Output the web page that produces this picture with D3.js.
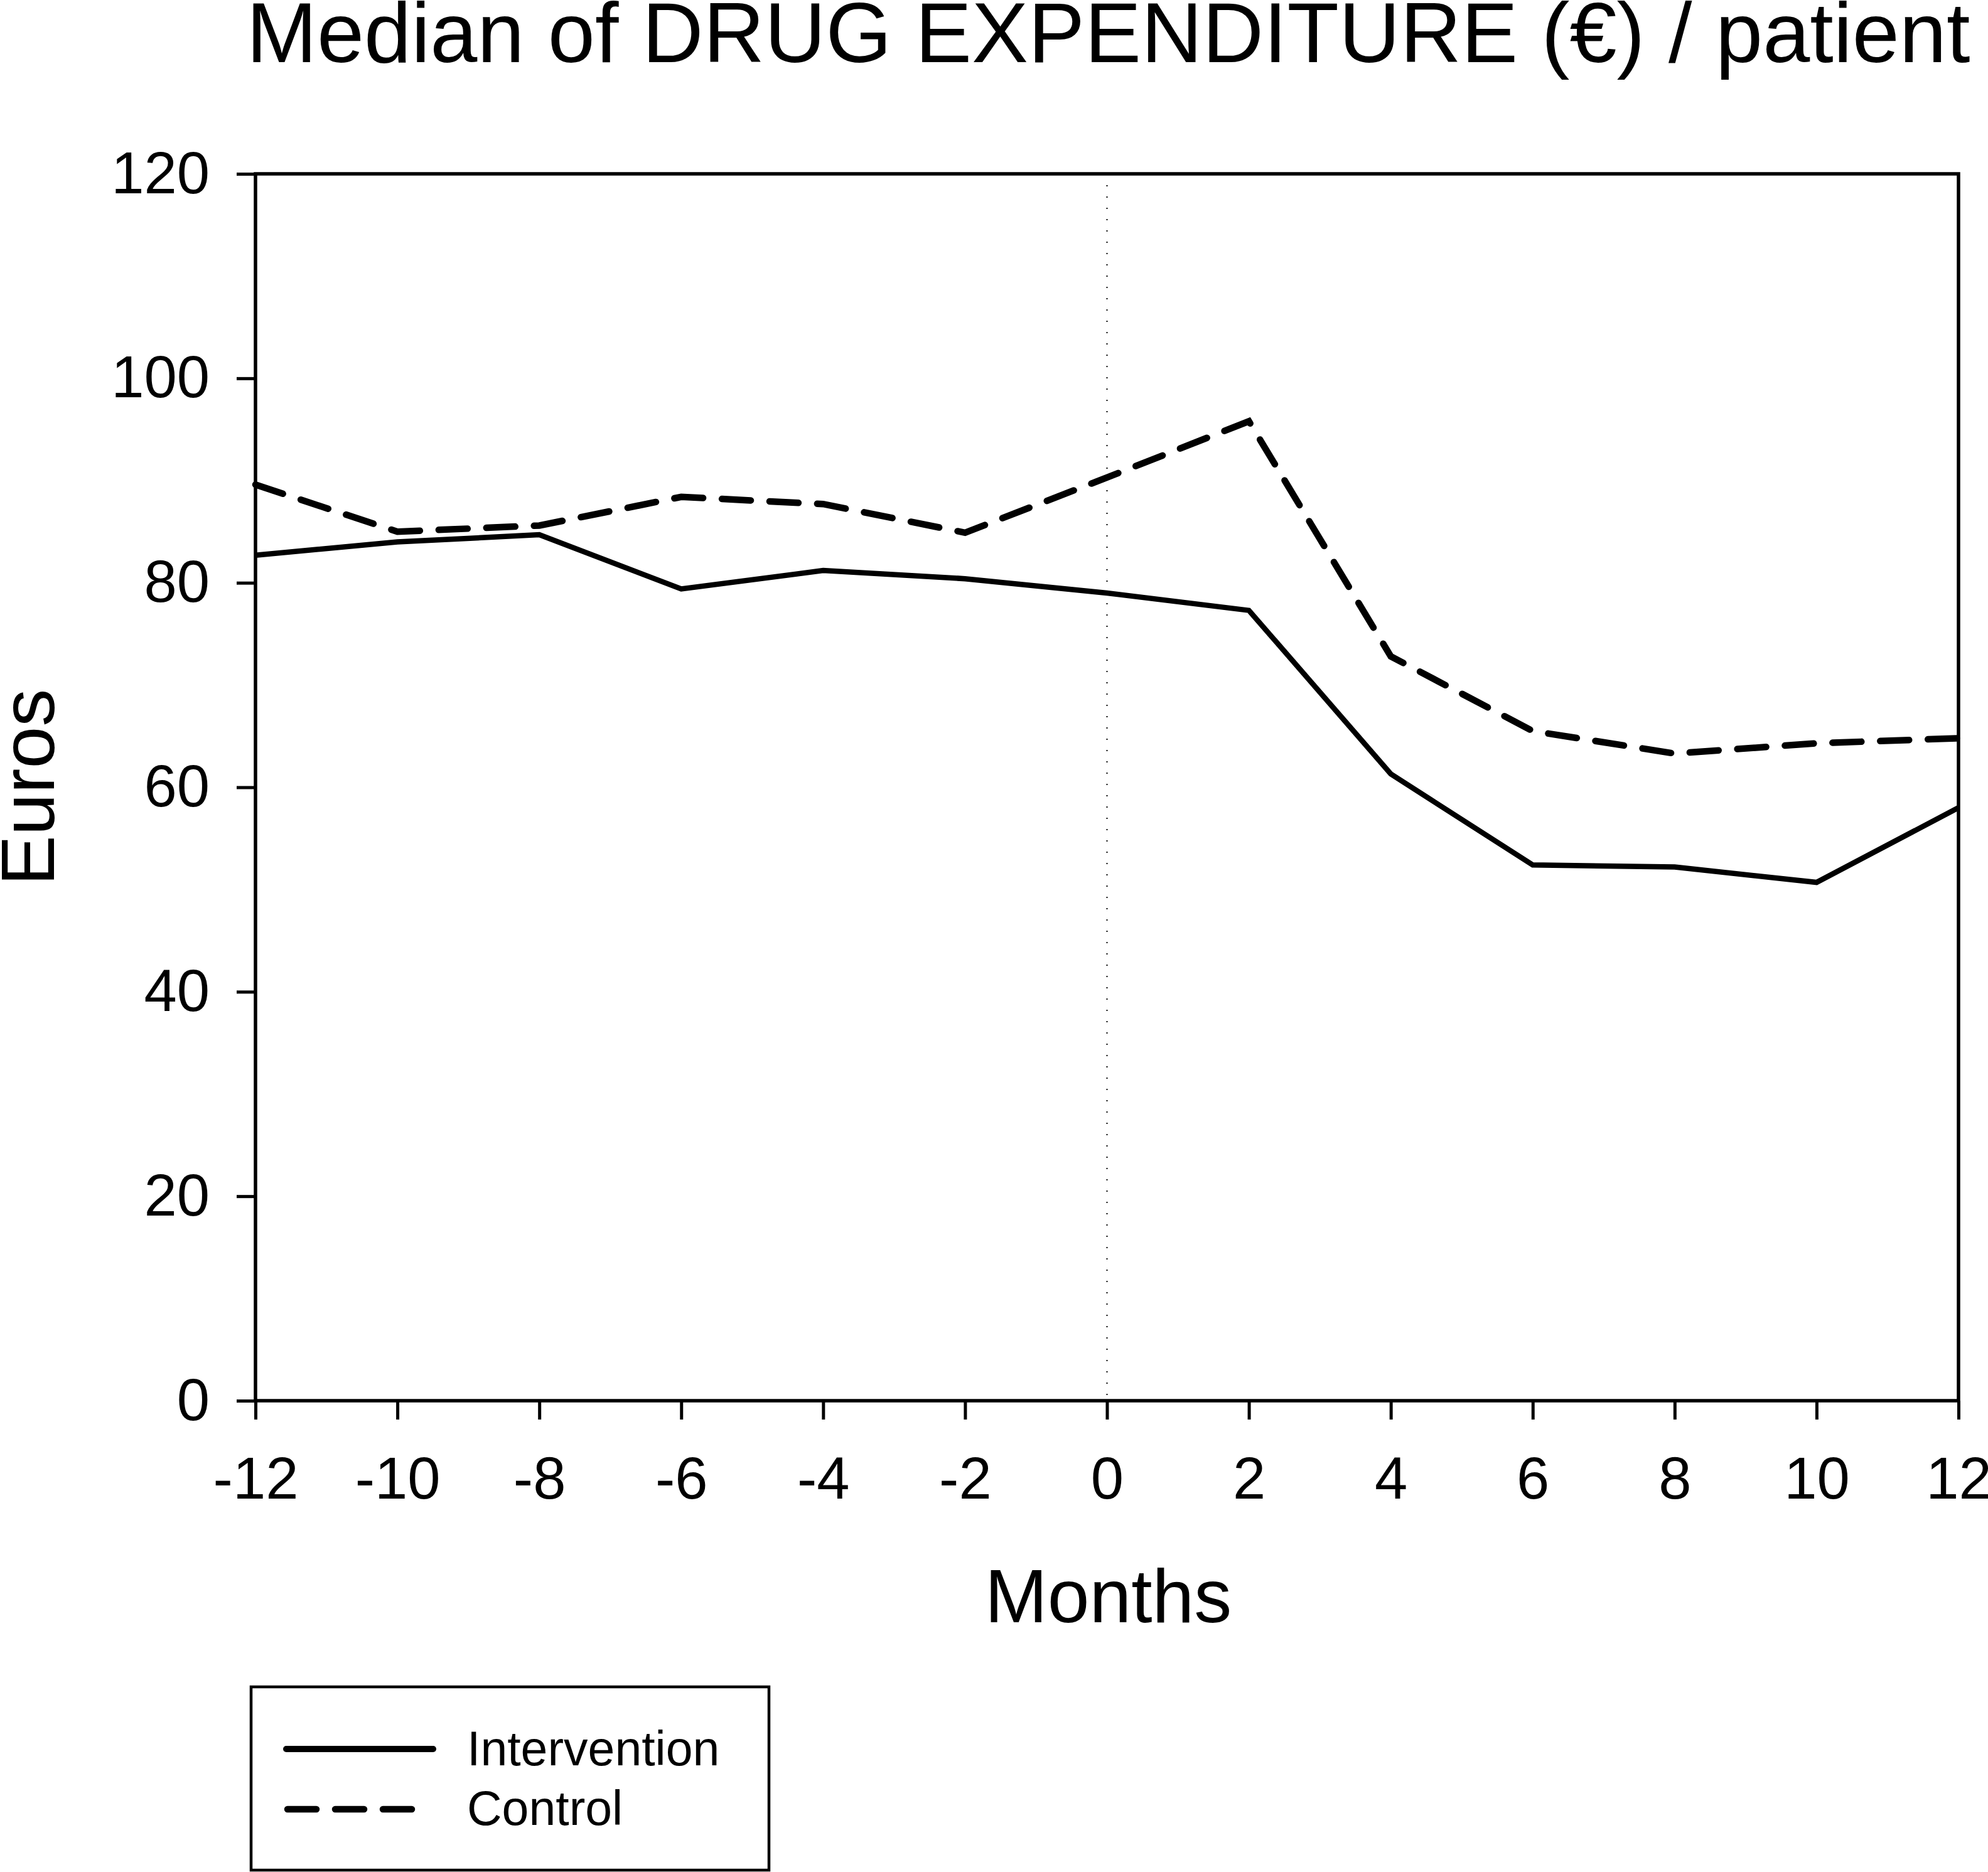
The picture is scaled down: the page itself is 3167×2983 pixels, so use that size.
<!DOCTYPE html>
<html>
<head>
<meta charset="utf-8">
<script src="https://cdn.jsdelivr.net/npm/d3@7"></script>
<style>
  html, body { margin: 0; padding: 0; background: #fff; }
  svg { display: block; }
  text { font-family: "Liberation Sans", Arial, Helvetica, sans-serif; fill: #000; }
</style>
</head>
<body>
<script>
// ---- Data ----
const months = [-12, -10, -8, -6, -4, -2, 0, 2, 4, 6, 8, 10, 12];
const intervention = [82.7, 84.0, 84.7, 79.4, 81.2, 80.4, 79.0, 77.3, 61.3, 52.4, 52.2, 50.7, 58.0];
const control = [89.6, 85.0, 85.6, 88.4, 87.7, 84.9, 90.3, 95.8, 72.8, 65.5, 63.3, 64.3, 64.8];
const yTicks = [0, 20, 40, 60, 80, 100, 120];
const xTicks = [-12, -10, -8, -6, -4, -2, 0, 2, 4, 6, 8, 10, 12];
const seriesNames = ["Intervention", "Control"];
const titleText = "Median of DRUG EXPENDITURE (\u20AC) / patient";
const xLabel = "Months";
const yLabel = "Euros";

// ---- Layout ----
const W = 3167, H = 2983;
const plot = { left: 407, right: 3120, top: 277, bottom: 2232 };

const svg = d3.select("body").append("svg")
  .attr("width", W).attr("height", H)
  .attr("viewBox", `0 0 ${W} ${H}`);

const x = d3.scaleLinear().domain([-12, 12]).range([plot.left, plot.right]);
const y = d3.scaleLinear().domain([0, 120]).range([plot.bottom, plot.top]);

// Title
svg.append("text")
  .attr("x", (plot.left + plot.right) / 2 + 2)
  .attr("y", 99)
  .attr("text-anchor", "middle")
  .attr("font-size", 135)
  .text(titleText);

// Dotted reference line at month 0
svg.append("line")
  .attr("x1", x(0)).attr("x2", x(0))
  .attr("y1", plot.top).attr("y2", plot.bottom)
  .attr("stroke", "#000").attr("stroke-width", 2)
  .attr("stroke-dasharray", "2,16");

// Axes
const yAxis = d3.axisLeft(y).tickValues(yTicks).tickSize(30).tickSizeOuter(0).tickPadding(43)
  .tickFormat(d3.format("d"));
const gy = svg.append("g").attr("transform", `translate(${plot.left},0)`).call(yAxis);
gy.select(".domain").remove();
gy.selectAll(".tick line").attr("stroke", "#000").attr("stroke-width", 5);
gy.selectAll(".tick text").attr("font-size", 94).attr("font-family", "Liberation Sans, Arial, sans-serif").attr("fill", "#000");

const xAxis = d3.axisBottom(x).tickValues(xTicks).tickSize(30).tickSizeOuter(0).tickPadding(59)
  .tickFormat(d3.format("d"));
const gx = svg.append("g").attr("transform", `translate(0,${plot.bottom})`).call(xAxis);
gx.select(".domain").remove();
gx.selectAll(".tick line").attr("stroke", "#000").attr("stroke-width", 5);
gx.selectAll(".tick text").attr("font-size", 94).attr("font-family", "Liberation Sans, Arial, sans-serif").attr("fill", "#000")
  .text(d => d < 0 ? "-" + Math.abs(d) : String(d));

// Frame
svg.append("rect")
  .attr("x", plot.left).attr("y", plot.top)
  .attr("width", plot.right - plot.left).attr("height", plot.bottom - plot.top)
  .attr("fill", "none").attr("stroke", "#000").attr("stroke-width", 5.5);

// Lines
const line = d3.line().x((d, i) => x(months[i])).y(d => y(d));

svg.append("path")
  .datum(intervention)
  .attr("d", line)
  .attr("fill", "none").attr("stroke", "#000").attr("stroke-width", 8.5)
  .attr("stroke-linejoin", "miter");

svg.append("path")
  .datum(control)
  .attr("d", line)
  .attr("fill", "none").attr("stroke", "#000").attr("stroke-width", 10.5)
  .attr("stroke-linecap", "round")
  .attr("stroke-dasharray", "46,30");

// Axis labels
svg.append("text")
  .attr("x", (plot.left + plot.right) / 2 + 2)
  .attr("y", 2585)
  .attr("text-anchor", "middle")
  .attr("font-size", 120)
  .text(xLabel);

svg.append("text")
  .attr("transform", `translate(86,${(plot.top + plot.bottom) / 2}) rotate(-90)`)
  .attr("text-anchor", "middle")
  .attr("font-size", 120)
  .text(yLabel);

// Legend
const lg = svg.append("g");
lg.append("rect")
  .attr("x", 400).attr("y", 2688).attr("width", 825).attr("height", 292)
  .attr("fill", "#fff").attr("stroke", "#000").attr("stroke-width", 4.5);

lg.append("line")
  .attr("x1", 456).attr("x2", 690).attr("y1", 2787).attr("y2", 2787)
  .attr("stroke", "#000").attr("stroke-width", 10).attr("stroke-linecap", "round");
lg.append("line")
  .attr("x1", 458).attr("x2", 664).attr("y1", 2883).attr("y2", 2883)
  .attr("stroke", "#000").attr("stroke-width", 10.5).attr("stroke-linecap", "round")
  .attr("stroke-dasharray", "46,30");

lg.append("text").attr("x", 744).attr("y", 2813).attr("font-size", 77).text(seriesNames[0]);
lg.append("text").attr("x", 744).attr("y", 2908).attr("font-size", 77).text(seriesNames[1]);
</script>
</body>
</html>
